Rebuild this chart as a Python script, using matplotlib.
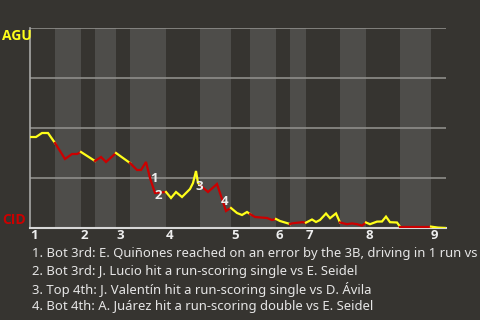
import matplotlib
matplotlib.use("Agg")
import matplotlib.pyplot as plt
import matplotlib.transforms as mtransforms

# game progress (arbitrary play scale) and AGU win probability (%)
progress = [0, 6, 12, 18, 25, 35, 42, 47, 51, 65, 71, 76, 86, 100, 107, 111, 116,
            120, 125, 136, 141, 146, 152, 160, 163, 166, 168, 170, 178, 187, 196,
            199, 201, 207, 212, 217, 220, 225, 237, 242, 246, 250, 260, 262, 272,
            276, 282, 286, 290, 296, 300, 306, 310, 317, 322, 327, 332, 336, 340,
            347, 352, 356, 360, 367, 370, 380, 390, 401, 408, 416]
agu_wp = [45.5, 45.5, 47.5, 47.5, 42.5, 34.5, 37, 37, 38, 33.5, 35.5, 33, 37.5,
          32.5, 29, 29, 33, 25, 17.5, 18, 15, 18, 15.5, 19.5, 22.5, 28.5, 22.5,
          21.5, 18, 22, 8.5, 9.5, 10, 7.5, 6.5, 8, 7, 5.5, 5, 4, 4.5, 3.5, 2,
          2.3, 2.9, 2.7, 4.25, 3, 4, 7.25, 4.9, 7.3, 2.75, 1.9, 2.3, 1.9, 1.2,
          2.75, 1.9, 3.2, 3.25, 5.7, 2.9, 2.75, 0.7, 0.7, 0.7, 0.7, 0.2, 0]

# start of each half inning (top 1, bot 1, top 2, ...), game ends at 416
half_starts = [0, 25, 51, 65, 86, 100, 136, 170, 201, 220, 246, 260, 276, 310,
               336, 370, 401]
game_end = 416
inning_labels = ["1", "2", "3", "4", "5", "6", "7", "8", "9"]

# key plays: (progress, wp, label offset in points)
key_x = [120, 125, 166, 196]
key_wp = [25, 17.5, 28.5, 8.5]
key_offsets = [(0, 0), (0, -2), (-0.5, -11), (-3.5, 7)]
key_texts = [
    "1. Bot 3rd: E. Quiñones reached on an error by the 3B, driving in 1 run vs",
    "2. Bot 3rd: J. Lucio hit a run-scoring single vs E. Seidel",
    "3. Top 4th: J. Valentín hit a run-scoring single vs D. Ávila",
    "4. Bot 4th: A. Juárez hit a run-scoring double vs E. Seidel",
]

bg = "#363430"
band = "#4e4d4a"
yellow = "#ffff1a"
red = "#cc0000"
bold_font = ["Open Sans", "DejaVu Sans"]
plt.rcParams["font.family"] = ["Noto Sans", "DejaVu Sans"]

fig = plt.figure(figsize=(4.8, 3.2), dpi=100, facecolor=bg)
ax = fig.add_axes([30 / 480, 1 - 228 / 320, 416 / 480, 200 / 320])
ax.set_facecolor(bg)

bounds = half_starts + [game_end]
for i in range(len(half_starts)):
    lo, hi = bounds[i], bounds[i + 1]
    if i % 2 == 1:
        ax.axvspan(lo, hi, color=band, lw=0, zorder=0)
    xs = [x for x in progress if lo <= x <= hi]
    ys = [w for x, w in zip(progress, agu_wp) if lo <= x <= hi]
    ax.plot(xs, ys, color=yellow if i % 2 == 0 else red, lw=1.6,
            solid_joinstyle="miter", zorder=3)

for y in [25, 50, 75, 100]:
    ax.axhline(y, color="#8e8d8a", lw=1.2, zorder=1)

for x, w, off, n in zip(key_x, key_wp, key_offsets, range(1, 5)):
    ax.annotate(str(n), (x, w), xytext=off, textcoords="offset points",
                ha="left", va="center", color="#eeeeee", fontsize=9.5,
                fontweight="bold", family=bold_font, zorder=4)

ax.set_xlim(0, game_end)
ax.set_ylim(0, 100)
for s in ["top", "right"]:
    ax.spines[s].set_visible(False)
ax.spines["left"].set_color("#a8a8a6")
ax.spines["bottom"].set_color("#d8d8d8")
ax.spines["left"].set_linewidth(1.2)
ax.spines["bottom"].set_linewidth(1.5)

ax.set_xticks(half_starts[::2])
ax.set_xticklabels(inning_labels, color="#eeeeee", fontsize=9.5,
                   fontweight="bold", family=bold_font, ha="left")
ax.tick_params(axis="x", length=0, pad=1)
ax.set_yticks([])

trans = mtransforms.blended_transform_factory(fig.transFigure, ax.transData)
ax.text(2 / 480, 99.5, "AGU", transform=trans, color=yellow, fontsize=10,
        fontweight="bold", family=bold_font, va="top", ha="left")
ax.text(2 / 480, 0.5, "CID", transform=trans, color=red, fontsize=10,
        fontweight="bold", family=bold_font, va="bottom", ha="left")

for k, t in enumerate(key_texts):
    fig.text(32 / 480, 1 - (254 + 17.6 * k) / 320, t, color="#e6e6e6",
             fontsize=9.4, va="center", ha="left")

fig.savefig("out.png", dpi=100, facecolor=bg)
